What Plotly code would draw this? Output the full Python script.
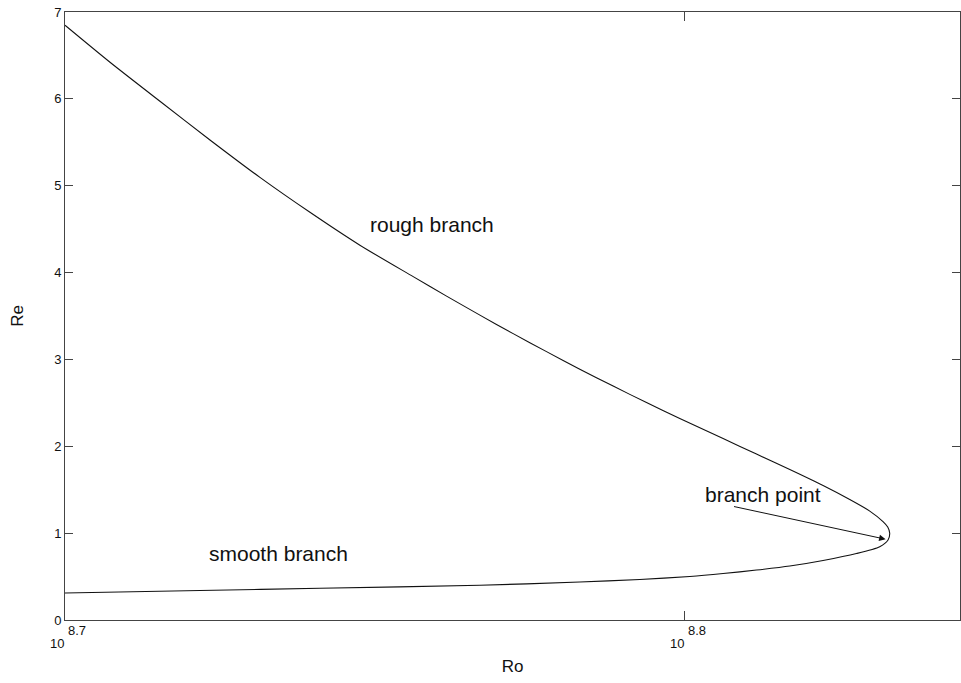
import plotly.graph_objects as go

# Re along the solution curve; Ro is stored as log10(Ro)
rough_log_ro = [8.70000, 8.70726, 8.71532, 8.72339, 8.73145, 8.73952, 8.74758, 8.75618,
                8.76156, 8.76694, 8.77231, 8.77769, 8.78306, 8.78844, 8.79382, 8.79919,
                8.80618, 8.81156, 8.81694, 8.82231, 8.82661, 8.82984, 8.83198, 8.83274, 8.83306]
rough_re = [6.847, 6.421, 5.972, 5.527, 5.096, 4.694, 4.315, 3.953,
            3.729, 3.510, 3.297, 3.090, 2.888, 2.693, 2.503, 2.319,
            2.089, 1.910, 1.732, 1.548, 1.387, 1.254, 1.133, 1.070, 0.998]

smooth_log_ro = [8.83306, 8.83279, 8.83145, 8.82769, 8.82231, 8.81694, 8.81156, 8.80618,
                 8.80081, 8.79274, 8.78306, 8.76694, 8.74113, 8.72177, 8.70000]
smooth_re = [0.998, 0.921, 0.844, 0.765, 0.685, 0.621, 0.575, 0.535,
             0.501, 0.466, 0.437, 0.400, 0.365, 0.339, 0.311]

x_tick_exp = ["8.7", "8.8"]
y_ticks = [0, 1, 2, 3, 4, 5, 6, 7]

log_ro = rough_log_ro + smooth_log_ro[1:]
re_vals = rough_re + smooth_re[1:]
ro_vals = [10 ** v for v in log_ro]

font = "Liberation Sans, Arial, sans-serif"
ink = "#111111"

fig = go.Figure()
fig.add_trace(go.Scatter(
    x=ro_vals, y=re_vals, mode="lines",
    line=dict(color=ink, width=1.1, shape="spline", smoothing=0.7),
    showlegend=False, hoverinfo="skip",
))

axis_common = dict(
    showline=True, linecolor="#444444", linewidth=1, mirror="allticks",
    ticks="inside", tickcolor="#444444", showgrid=False, zeroline=False,
)

fig.update_xaxes(
    type="log", range=[8.7, 8.8444],
    tickvals=[10 ** float(e) for e in x_tick_exp],
    showticklabels=False, ticklen=9,
    title=dict(text="Ro", font=dict(family=font, size=17, color=ink), standoff=40),
    **axis_common,
)
fig.update_yaxes(
    range=[0, 7], tickvals=y_ticks, ticklen=8,
    tickfont=dict(family=font, size=13, color=ink),
    title=dict(text="Re", font=dict(family=font, size=17, color=ink), standoff=26),
    **axis_common,
)

# power-of-ten tick labels: base below-left, exponent above-right of each tick
tick_font = dict(family=font, size=13, color=ink)
for e in x_tick_exp:
    fig.add_annotation(x=float(e), y=0, xref="x", yref="paper", text="10",
                       showarrow=False, xanchor="right", yanchor="middle",
                       yshift=-23, xshift=1, font=tick_font)
    fig.add_annotation(x=float(e), y=0, xref="x", yref="paper", text=e,
                       showarrow=False, xanchor="left", yanchor="middle",
                       yshift=-10, xshift=1, font=tick_font)

label_font = dict(family=font, size=21, color=ink)
fig.add_annotation(x=8.7592, y=4.55, text="rough branch", showarrow=False, font=label_font)
fig.add_annotation(x=8.7344, y=0.77, text="smooth branch", showarrow=False, font=label_font)
fig.add_annotation(x=8.8126, y=1.44, text="branch point", showarrow=False, font=label_font)
fig.add_annotation(
    x=8.8324, y=0.93, ax=8.8077, ay=1.31, axref="x", ayref="y",
    text="", showarrow=True, arrowhead=2, arrowsize=1.3, arrowwidth=1, arrowcolor=ink,
)

fig.update_layout(
    width=961, height=683,
    margin=dict(l=65, r=1, t=12, b=63),
    paper_bgcolor="white", plot_bgcolor="white",
)

fig.write_html("out.html")
